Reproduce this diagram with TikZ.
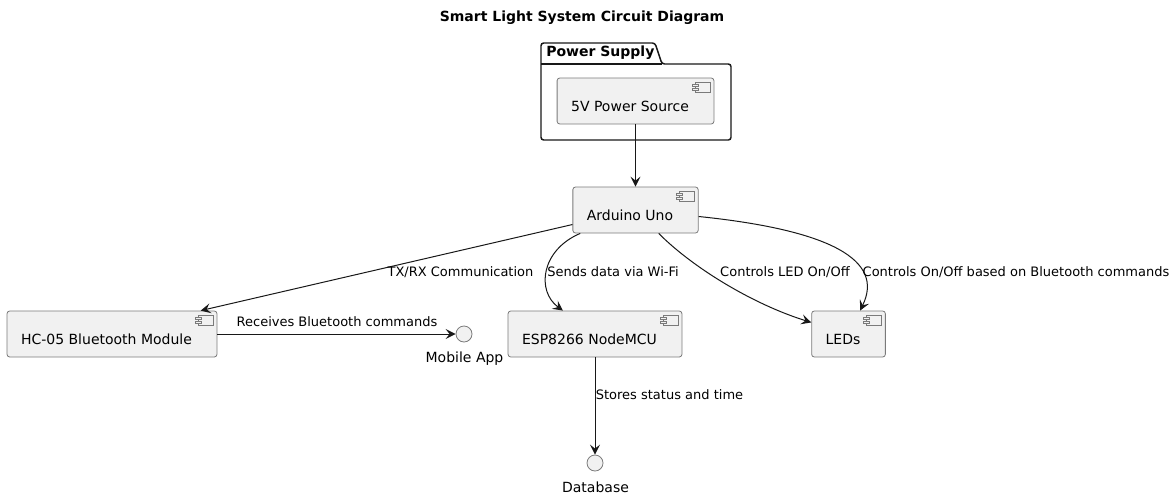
\documentclass[tikz,border=0pt]{standalone}
\usepackage{fontspec}
\setmainfont{DejaVu Sans}
\usepackage{tikz}
\usetikzlibrary{calc}
\usetikzlibrary{arrows.meta}
\definecolor{c_fill}{HTML}{F1F1F1}
\definecolor{c_line}{HTML}{181818}
\definecolor{c_border}{HTML}{7A7A7A}
\newcommand\compicon[1]{%
	\draw [c_border, fill=c_fill, line width=0.5pt] ($(#1.north east)+(-19,5)$) rectangle ($(#1.north east)+(-4,15)$);
	\draw [c_border, fill=c_fill, line width=0.5pt] ($(#1.north east)+(-22,7)$) rectangle ($(#1.north east)+(-16,9)$);
	\draw [c_border, fill=c_fill, line width=0.5pt] ($(#1.north east)+(-22,11)$) rectangle ($(#1.north east)+(-16,13)$);
}

\begin{document}
\begin{tikzpicture}
[x=0.75pt,y=-0.75pt,
 comp/.style={draw=c_border, fill=c_fill, line width=0.6pt, rounded corners=2pt, inner xsep=10.5pt, inner ysep=0pt, text height=24.75pt, text depth=9.75pt, font=\fontsize{10.5}{12}\selectfont, execute at end node={\hspace*{8.25pt}}},
 iface/.style={circle, draw=c_border, fill=c_fill, line width=0.6pt, minimum size=12pt, inner sep=0pt},
 ilbl/.style={font=\fontsize{10.5}{12}\selectfont, inner sep=0pt},
 lbl/.style={font=\fontsize{9.75}{11}\selectfont, inner sep=0pt},
 conn/.style={c_line, line width=0.75pt, -{Stealth[length=7.5pt,width=7.5pt,inset=3pt]}},
 pkg/.style={c_line, line width=1.1pt, rounded corners=2pt}]
	\useasboundingbox (0,0) rectangle (1176,500);

	\node [font=\bfseries\fontsize{10.5}{12}\selectfont, inner sep=0pt] (title) at (582,18) {Smart Light System Circuit Diagram};

	% package
	\draw [pkg] (541,140) -- (541,43) -- (655,43) -- (662,64) -- (731,64) -- (731,140) -- cycle;
	\draw [pkg] (541,64) -- (662,64);
	\node [anchor=west, inner sep=0pt, font=\bfseries\fontsize{10.5}{12}\selectfont] (pkglbl) at (546,53) {Power Supply};

	% components
	\node [comp] (psrc) at (635.5,101) {5V Power Source};
	\node [comp] (ard) at (635.5,210) {Arduino Uno};
	\node [comp] (hc) at (112,334) {HC-05 Bluetooth Module};
	\node [comp] (esp) at (595,334) {ESP8266 NodeMCU};
	\node [comp] (leds) at (848.5,334) {LEDs};
	\foreach \n in {psrc,ard,hc,esp,leds}
		\compicon{\n};

	\node [iface] (app) at (464,334) {};
	\node [ilbl] (applbl) at (464.5,359) {Mobile App};
	\node [iface] (db) at (595,463) {};
	\node [ilbl] (dblbl) at (595.5,487) {Database};

	% connectors
	\draw [conn] (psrc) -- (ard);
	\draw [conn] (ard) -- ([xshift=-12.5pt]hc.north east);
	\draw [conn] (ard) .. controls (541,250) and (536,291) .. (esp);
	\draw [conn] (ard) .. controls (692,267) and (752,304) .. (leds);
	\draw [conn] (ard) .. controls (830,230) and (885,260) .. (leds);
	\draw [conn] (hc) -- (app);
	\draw [conn] (esp) -- (db);

	\node [lbl] (l_txrx) at (460.5,272) {TX/RX Communication};
	\node [lbl] (l_wifi) at (613,272) {Sends data via Wi-Fi};
	\node [lbl] (l_led) at (785,272) {Controls LED On/Off};
	\node [lbl] (l_bt) at (1016,272) {Controls On/Off based on Bluetooth commands};
	\node [lbl] (l_recv) at (337,322) {Receives Bluetooth commands};
	\node [lbl] (l_store) at (669.5,395) {Stores status and time};
\end{tikzpicture}
\end{document}
